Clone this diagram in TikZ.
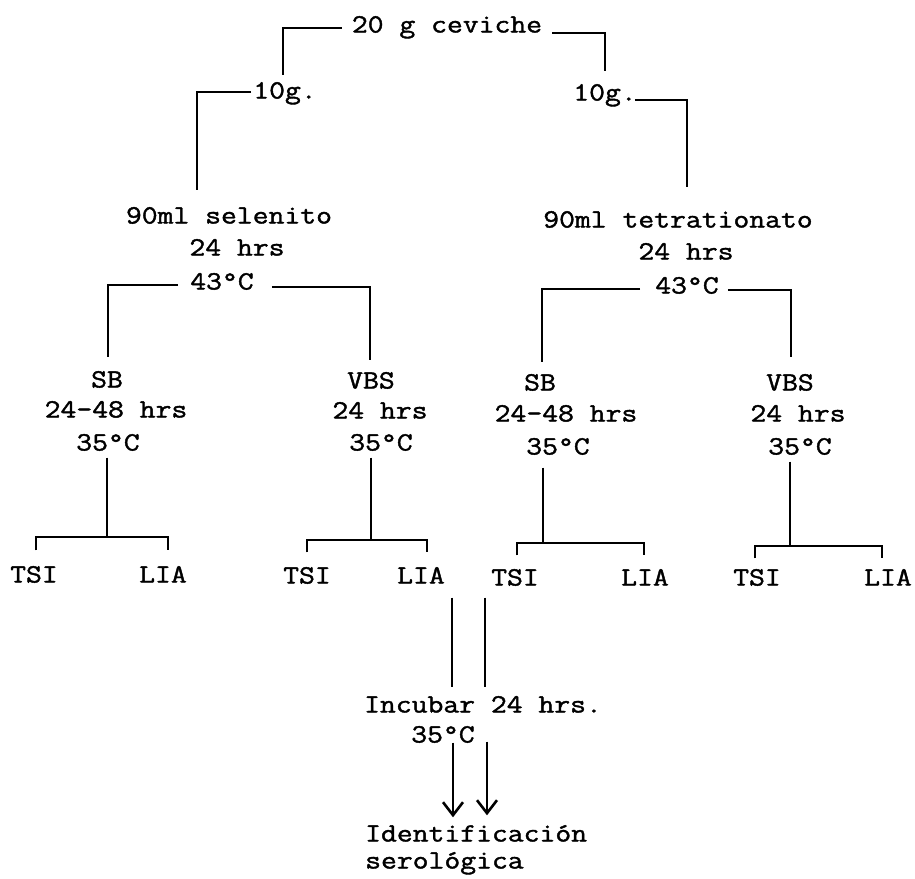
\documentclass[tikz,border=0pt]{standalone}
\usepackage{fontspec}
\newfontfamily\tw{Latin Modern Mono}[FakeStretch=1.17, FakeBold=1.5]
\usetikzlibrary{arrows.meta}
\begin{document}
\begin{tikzpicture}[x=1pt,y=-1pt,
  lbl/.style={inner sep=0pt, text height=15pt, text depth=0pt, font=\tw\fontsize{26.3}{30}\selectfont},
  link/.style={line width=2.4pt},
  arr/.style={line width=2.6pt, -{Straight Barb[length=13pt,width=20pt]}}]
\useasboundingbox (0,0) rectangle (915,878);

% level 0
\node[lbl] (ceviche) at (447,25) {20 g ceviche};
% level 1
\node[lbl] (g10L) at (285,91) {10g.};
\node[lbl] (g10R) at (605,93) {10g.};
% level 2
\node[lbl] (sel)   at (229,216) {90ml selenito};
\node[lbl] (sel24) at (237,248) {24 hrs};
\node[lbl] (sel43) at (222,282) {43°C};
\node[lbl] (tet)   at (678,220) {90ml tetrationato};
\node[lbl] (tet24) at (686,252) {24 hrs};
\node[lbl] (tet43) at (687,286) {43°C};
% level 3
\node[lbl] (sb1)   at (107,380) {SB};
\node[lbl] (sb1h)  at (116,410) {24-48 hrs};
\node[lbl] (sb1t)  at (108,443) {35°C};
\node[lbl] (vbs1)  at (371,381) {VBS};
\node[lbl] (vbs1h) at (380,411) {24 hrs};
\node[lbl] (vbs1t) at (381,443) {35°C};
\node[lbl] (sb2)   at (540,383) {SB};
\node[lbl] (sb2h)  at (566,414) {24-48 hrs};
\node[lbl] (sb2t)  at (558,447) {35°C};
\node[lbl] (vbs2)  at (790,383) {VBS};
\node[lbl] (vbs2h) at (798,414) {24 hrs};
\node[lbl] (vbs2t) at (800,447) {35°C};
% leaves
\node[lbl] (tsi1) at (34,575)  {TSI};
\node[lbl] (lia1) at (163,575) {LIA};
\node[lbl] (tsi2) at (307,576) {TSI};
\node[lbl] (lia2) at (421,576) {LIA};
\node[lbl] (tsi3) at (515,578) {TSI};
\node[lbl] (lia3) at (645,578) {LIA};
\node[lbl] (tsi4) at (757,578) {TSI};
\node[lbl] (lia4) at (888,578) {LIA};
% bottom
\node[lbl] (inc)  at (483,705) {Incubar 24 hrs.};
\node[lbl] (inc2) at (443,735) {35°C};
\node[lbl, anchor=west] (id)  at (365,834) {Identificación};
\node[lbl, anchor=west] (ser) at (365,861) {serológica};

% junction coordinates
\coordinate (j1) at (107,537);
\coordinate (j2) at (371,540);
\coordinate (j3) at (543,543);
\coordinate (j4) at (790,546);

% top split
\draw[link] ([shift={(-10pt,-3pt)}]ceviche.west) -| ([shift={(-2pt,8pt)}]g10L.north);
\draw[link] ([shift={(10pt,-8pt)}]ceviche.east) -| ([shift={(0pt,14pt)}]g10R.north);
% 10g to media
\draw[link] ([shift={(-2pt,-1pt)}]g10L.west) -| ([shift={(-32pt,18pt)}]sel.north);
\draw[link] ([shift={(-2pt,-7pt)}]g10R.east) -| ([shift={(9pt,25pt)}]tet.north);
% 43C splits
\draw[link] ([shift={(-12pt,-3pt)}]sel43.west) -| ([shift={(1pt,15pt)}]sb1.north);
\draw[link] ([shift={(18pt,-5pt)}]sel43.east) -| ([shift={(-1pt,13pt)}]vbs1.north);
\draw[link] ([shift={(-15pt,-3pt)}]tet43.west) -| ([shift={(2pt,13pt)}]sb2.north);
\draw[link] ([shift={(9pt,-4pt)}]tet43.east) -| ([shift={(1pt,18pt)}]vbs2.north);
% 35C to brackets
\draw[link] ([shift={(-1pt,-7pt)}]sb1t.south) -- (j1);
\draw[link] ([shift={(2pt,17pt)}]tsi1.north) |- (j1) -| ([shift={(5pt,17pt)}]lia1.north);
\draw[link] ([shift={(-10pt,-7pt)}]vbs1t.south) -- (j2);
\draw[link] ([shift={(0pt,16pt)}]tsi2.north) |- (j2) -| ([shift={(6pt,16pt)}]lia2.north);
\draw[link] ([shift={(-15pt,-13pt)}]sb2t.south) -- (j3);
\draw[link] ([shift={(2pt,15pt)}]tsi3.north) |- (j3) -| ([shift={(-1pt,15pt)}]lia3.north);
\draw[link] ([shift={(-10pt,-7pt)}]vbs2t.south) -- (j4);
\draw[link] ([shift={(-2pt,12pt)}]tsi4.north) |- (j4) -| ([shift={(-6pt,12pt)}]lia4.north);
% to incubation
\draw[link] ([shift={(31pt,-14pt)}]lia2.south) -- ([shift={(-31pt,10pt)}]inc.north);
\draw[link] ([shift={(-30pt,-12pt)}]tsi3.south) -- ([shift={(2pt,10pt)}]inc.north);
% arrows to identification
\draw[arr] ([shift={(10pt,0pt)}]inc2.south) -- ([shift={(88pt,9pt)}]id.north west);
\draw[arr] ([shift={(44pt,1pt)}]inc2.south) -- ([shift={(122pt,11pt)}]id.north west);
\end{tikzpicture}
\end{document}
